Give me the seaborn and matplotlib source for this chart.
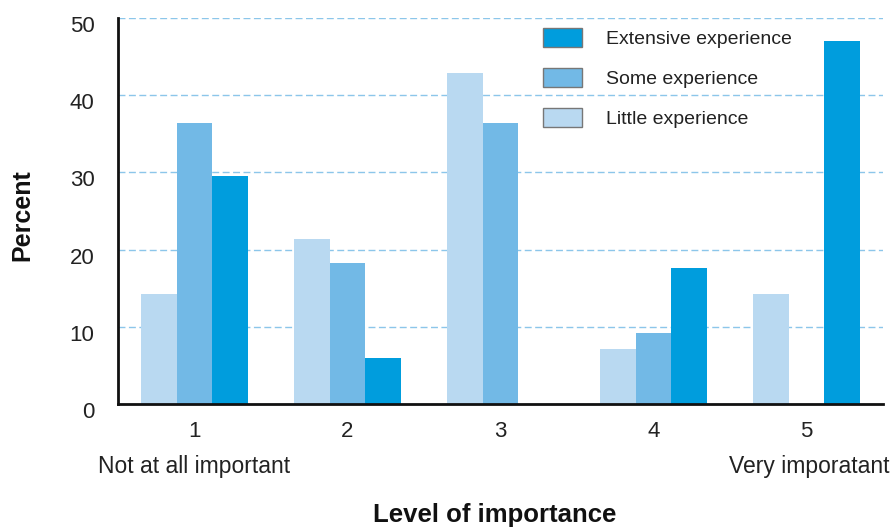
import matplotlib
matplotlib.use("Agg")
import matplotlib.pyplot as plt
import matplotlib.transforms as mtrans
import seaborn as sns
import pandas as pd

# values
levels = ["1", "2", "3", "4", "5"]
little = [14.3, 21.4, 42.9, 7.1, 14.3]
some = [36.4, 18.2, 36.4, 9.2, 0]
extensive = [29.5, 5.9, 0, 17.6, 47.0]
groups = ["Little experience", "Some experience", "Extensive experience"]
colors = ["#b9d9f1", "#72b9e6", "#009ddd"]

rows = []
for name, vals in zip(groups, [little, some, extensive]):
    for lvl, v in zip(levels, vals):
        rows.append({"Level": lvl, "Percent": v, "Experience": name})
df = pd.DataFrame(rows)

sns.set_theme(style="white")
plt.rcParams["font.family"] = ["Liberation Sans", "DejaVu Sans"]

fig = plt.figure(figsize=(8.95, 5.28), dpi=100)
ax = fig.add_axes([118 / 895, 1 - 404 / 528, 765 / 895, 386 / 528])

sns.barplot(data=df, x="Level", y="Percent", hue="Experience",
            hue_order=groups, palette=colors, width=0.7, gap=0,
            saturation=1, linewidth=0, ax=ax)

ax.set_xlim(-0.5, 4.5)
ax.set_ylim(0, 50)
ax.set_yticks([0, 10, 20, 30, 40, 50])
ax.yaxis.grid(True, color="#8cc6ea", linestyle=(0, (5, 2.5)), linewidth=1)
ax.set_axisbelow(True)

# tick marks at group boundaries, labels centred on groups
ax.set_xticks([0.5, 1.5, 2.5, 3.5, 4.5])
ax.set_xticklabels([])
ax.set_xticks(range(5), minor=True)
ax.set_xticklabels(levels, minor=True)
ax.tick_params(axis="x", which="major", direction="in", length=7, width=1.2, color="#222222")
ax.tick_params(axis="x", which="minor", length=0, pad=12, labelsize=16, labelcolor="#222222")
ax.tick_params(axis="y", length=0, pad=17, labelsize=16, labelcolor="#222222")
# y labels sit a little below their gridlines in the original
shift = mtrans.ScaledTranslation(0, -0.06, fig.dpi_scale_trans)
for lab in ax.get_yticklabels():
    lab.set_transform(lab.get_transform() + shift)

for s in ["top", "right"]:
    ax.spines[s].set_visible(False)
for s in ["left", "bottom"]:
    ax.spines[s].set_color("#111111")
    ax.spines[s].set_linewidth(2)

ax.set_xlabel("")
ax.set_ylabel("")
fig.text(22 / 895, 1 - 215 / 528, "Percent", rotation=90, fontsize=18,
         fontweight="bold", ha="center", va="center", color="#111111")
fig.text(495 / 895, 1 - 515 / 528, "Level of importance", fontsize=18.5,
         fontweight="bold", ha="center", va="center", color="#111111")
fig.text(98 / 895, 1 - 466 / 528, "Not at all important", fontsize=16.5,
         ha="left", va="center", color="#222222")
fig.text(890 / 895, 1 - 466 / 528, "Very imporatant", fontsize=16.5,
         ha="right", va="center", color="#222222")

handles, labels = ax.get_legend_handles_labels()
ax.get_legend().remove()
leg = fig.legend(handles[::-1], labels[::-1], loc="upper left",
                 bbox_to_anchor=(543 / 895, 1 - 28 / 528), frameon=False,
                 fontsize=14, handlelength=2.0, handleheight=1.15,
                 handletextpad=1.25, labelspacing=1.02, borderpad=0,
                 borderaxespad=0)
for p in leg.get_patches():
    p.set_edgecolor("#777777")
    p.set_linewidth(1)
for t in leg.get_texts():
    t.set_color("#222222")

fig.savefig("out.png", dpi=100)
